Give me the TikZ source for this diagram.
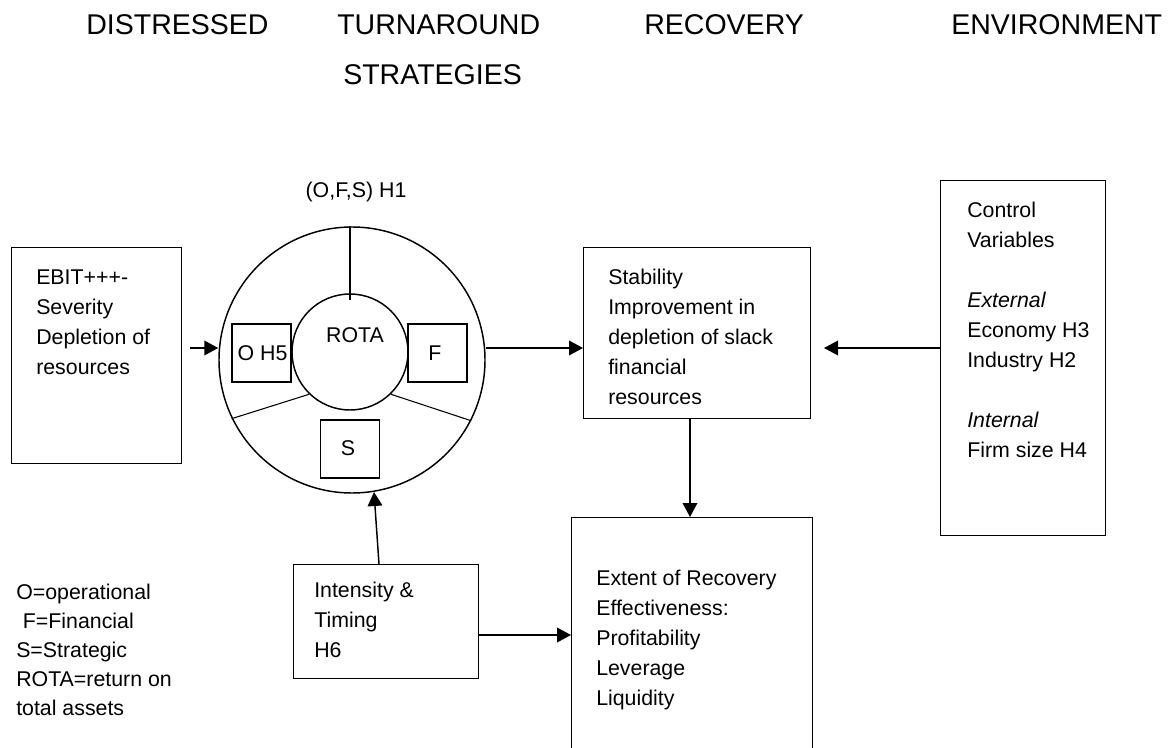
\documentclass[tikz,border=0pt]{standalone}
\usepackage{fontspec}
\setmainfont{Liberation Sans}
\usetikzlibrary{arrows.meta}
\begin{document}
\begin{tikzpicture}[x=0.75pt,y=-0.75pt,
  box/.style={draw,line width=1.1pt,rectangle,inner sep=0pt,anchor=north west},
  sbox/.style={draw,line width=1.1pt,rectangle,inner sep=0pt,minimum width=44pt,minimum height=43.5pt},
  ring/.style={draw,circle,line width=1.1pt,inner sep=0pt},
  txt/.style={font=\fontsize{16}{22.5}\selectfont,align=left,anchor=north west,inner sep=0pt},
  legend/.style={font=\fontsize{16}{21.75}\selectfont,align=left,anchor=north west,inner sep=0pt},
  lbl/.style={font=\fontsize{16}{22.5}\selectfont,inner sep=0pt,anchor=base},
  head/.style={font=\fontsize{21.4}{30}\selectfont,inner sep=0pt,anchor=base west},
  arr/.style={line width=1.1pt,-{Triangle[length=10.5pt,width=11pt]}},
  sep/.style={line width=0.8pt}]
\useasboundingbox (0,0) rectangle (1170,748);
\clip (0,0) rectangle (1170,748);
% headers
\node[head] (h1) at (86,35) {DISTRESSED};
\node[head] (h2) at (337,35) {TURNAROUND};
\node[head] (h2b) at (343,85) {STRATEGIES};
\node[head] (h3) at (644,35) {RECOVERY};
\node[head] (h4) at (951,35) {ENVIRONMENT};
% boxes
\node[box,minimum width=127.5pt,minimum height=162pt] (ebit) at (11,247) {};
\node[txt] (ebitT) at (36,263) {\strut EBIT+++-\\Severity\\Depletion of\\resources};
\node[box,minimum width=170.25pt,minimum height=128.25pt] (stab) at (583,247) {};
\node[txt] (stabT) at (608,263) {\strut Stability\\Improvement in\\depletion of slack\\financial\\resources};
\node[box,minimum width=123.75pt,minimum height=266.25pt] (ctrl) at (940,180) {};
\node[txt] (ctrlT) at (967,196) {\strut Control\\Variables\\\strut\\\textit{External}\\Economy H3\\Industry H2\\\strut\\\textit{Internal}\\Firm size H4};
\node[box,minimum width=138.75pt,minimum height=85.5pt] (int) at (293,564) {};
\node[txt] (intT) at (314,576) {\strut Intensity \&\\Timing\\H6};
\node[box,minimum width=180.75pt,minimum height=189.75pt] (ext) at (571,517) {};
\node[txt] (extT) at (596,564) {\strut Extent of Recovery\\Effectiveness:\\Profitability\\Leverage\\Liquidity};
\node[legend] (leg) at (16,579) {\strut O=operational\\\hspace{5pt}F=Financial\\S=Strategic\\ROTA=return on\\total assets};
% strategy wheel
\node[ring,minimum size=199.5pt] (outer) at (352,360) {};
\node[ring,minimum size=87pt] (inner) at (350,352) {};
\draw[sep] (inner.north |- outer.north) -- ([yshift=-5.25pt]inner.north);
\draw[sep] (inner.226) -- (outer.206.6);
\draw[sep] (inner.314) -- (outer.333);
\node[sbox] (o) at (261.5,353) {};
\node[sbox] (f) at (437.5,353) {};
\node[sbox] (s) at (350,449) {};
\node[lbl] (oT) at (262.5,360) {O H5};
\node[lbl] (fT) at (435,360) {F};
\node[lbl] (sT) at (348,455) {S};
\node[lbl] (rota) at (355,343) {ROTA};
\node[lbl] (ofs) at (356,198) {(O,F,S) H1};
% connectors
\coordinate (lev) at (0,348);
\coordinate (a1) at (190,348);
\draw[arr] (a1) -- (a1 -| outer.west);
\draw[arr] (outer.east |- lev) -- (stab.west |- lev);
\coordinate (a3) at (824,348);
\draw[arr] (ctrl.west |- lev) -- (a3);
\coordinate (ax) at (690,0);
\draw[arr] (stab.south -| ax) -- (ext.north -| ax);
\coordinate (i1) at (379,0);
\coordinate (i2) at (374,492);
\draw[arr] (int.north -| i1) -- (i2);
\coordinate (ly) at (0,635);
\draw[arr] (int.east |- ly) -- (ext.west |- ly);
\end{tikzpicture}
\end{document}
